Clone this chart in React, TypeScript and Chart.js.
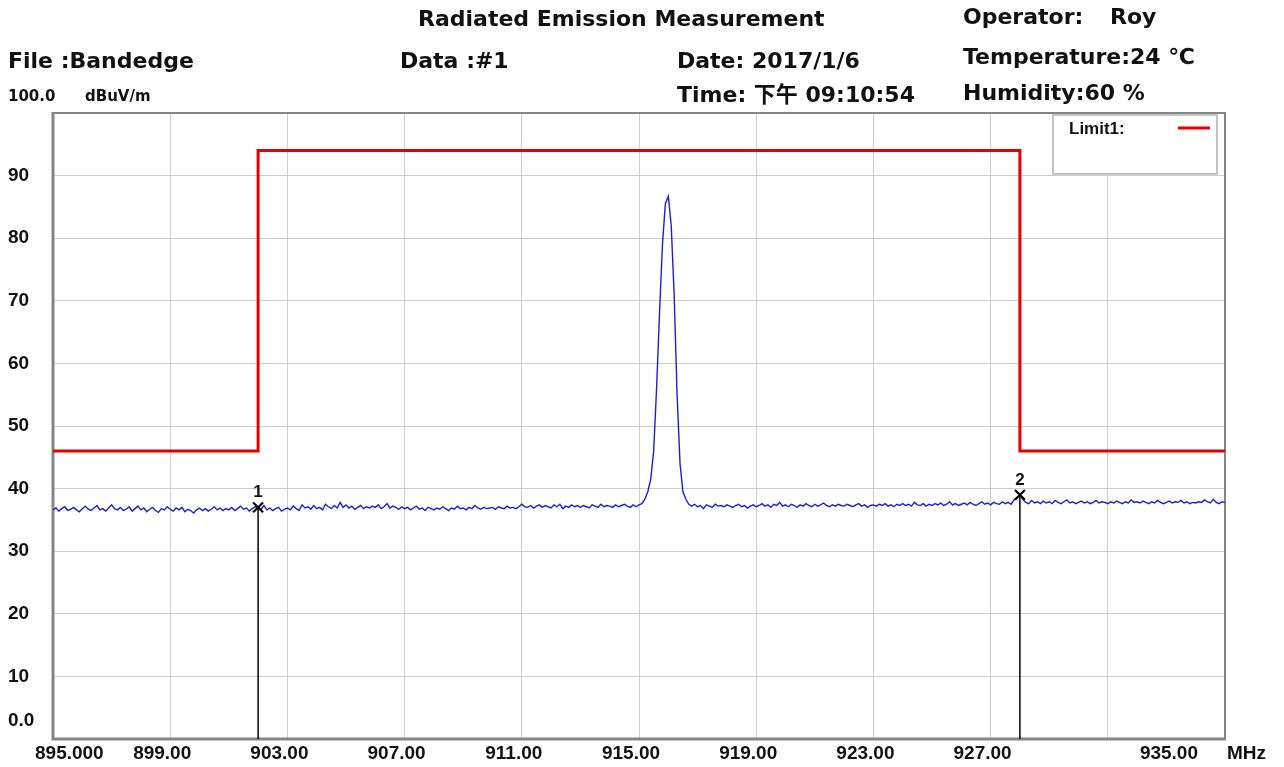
import React, { useEffect, useRef } from "react";
import { Chart, registerables } from "chart.js";

Chart.register(...registerables);

// ---------------- data ----------------
const START_MHZ = 895;
const STEP_MHZ = 0.1;

// measured level (dBuV/m) every 0.1 MHz from 895.0 to 935.0 MHz
const TRACE_LEVELS = [
  // 895
  36.6, 36.9, 36.4, 36.8, 37.1, 36.5, 36.7, 37.0, 36.6, 36.3,
  // 896
  36.8, 37.2, 36.7, 36.5, 36.9, 37.3, 36.6, 36.8, 36.4, 36.9,
  // 897
  37.4, 36.8, 36.6, 37.0, 36.5, 36.7, 37.1, 36.4, 36.8, 37.2,
  // 898
  36.6, 36.9, 36.3, 36.7, 37.0, 36.5, 36.2, 36.8, 36.6, 37.1,
  // 899
  36.7, 36.4, 36.9, 36.6, 37.0, 36.3, 36.7, 36.5, 36.1, 36.6,
  // 900
  36.9, 36.5, 36.8, 36.4, 36.7, 37.1, 36.6, 36.9, 36.5, 36.8,
  // 901
  36.6, 37.0, 36.5, 36.8, 37.2, 36.7, 36.9, 36.4, 36.8, 37.1,
  // 902
  37.0, 36.7, 37.3, 36.6, 36.9, 36.5, 36.8, 37.0, 36.4, 36.7,
  // 903
  36.9, 36.6, 37.2, 36.8, 36.5, 37.4, 36.9, 37.1, 36.7, 37.3,
  // 904
  36.8, 37.0, 36.6, 37.5, 37.1, 36.8, 37.3, 36.9, 37.8, 37.0,
  // 905
  37.4, 36.9, 37.2, 36.7, 37.0, 37.3, 36.8, 37.1, 36.9, 37.2,
  // 906
  37.0, 37.4, 36.8, 37.1, 37.6, 36.9, 37.2, 37.0, 36.7, 37.1,
  // 907
  36.8, 37.0, 36.6, 36.9, 37.2, 36.7, 36.9, 36.5, 37.0, 36.8,
  // 908
  36.6, 36.9, 36.7, 37.1, 36.8, 36.5, 36.9, 36.7, 37.2, 36.8,
  // 909
  36.9, 36.6, 37.0, 36.8, 37.3, 36.9, 36.7, 37.0, 36.8, 36.9,
  // 910
  37.0, 36.7, 37.1, 36.9, 36.8, 37.2, 36.9, 37.0, 36.8, 37.1,
  // 911
  37.5, 37.1, 37.0, 37.3, 36.9, 37.2, 37.4, 37.0, 37.3, 37.1,
  // 912
  36.9, 37.4, 37.1, 37.5, 36.8, 37.2, 37.0, 37.4, 37.1, 37.3,
  // 913
  37.0, 37.3, 37.1, 36.9, 37.4, 37.2, 37.0, 37.5, 37.1, 37.3,
  // 914
  37.2, 37.0, 37.4, 37.1, 37.3, 37.5, 37.2, 37.0, 37.4, 37.1,
  // 915
  37.4, 37.6, 38.3, 39.5, 41.5, 46.0, 56.0, 68.0, 79.0, 85.5,
  // 916
  86.7, 82.0, 71.0, 55.0, 44.0, 39.5, 38.3, 37.5, 37.2, 37.5,
  // 917
  37.1, 37.3, 36.8, 37.4, 37.2, 37.0, 37.5, 37.2, 37.3, 37.1,
  // 918
  37.4, 37.2, 37.0, 37.3, 37.5, 37.1, 37.3, 36.9, 37.2, 37.4,
  // 919
  37.1, 37.3, 37.6, 37.2, 37.4, 37.0, 37.5, 37.3, 37.8, 37.2,
  // 920
  37.4, 37.1, 37.5, 37.3, 37.0, 37.4, 37.2, 37.6, 37.3, 37.1,
  // 921
  37.5, 37.2, 37.4, 37.7, 37.3, 37.1, 37.4, 37.2, 37.5, 37.3,
  // 922
  37.2, 37.5, 37.3, 37.1, 37.4, 37.6, 37.2, 37.4, 37.0, 37.3,
  // 923
  37.4, 37.2, 37.5, 37.3, 37.6, 37.2, 37.4, 37.1, 37.5, 37.3,
  // 924
  37.6, 37.3, 37.5, 37.2, 37.8, 37.4, 37.3, 37.6, 37.2, 37.5,
  // 925
  37.3, 37.6, 37.4, 37.7, 37.3, 37.5, 37.9, 37.4, 37.6, 37.3,
  // 926
  37.5, 37.7, 37.4, 37.8, 37.5, 37.3, 37.6, 37.9, 37.5, 37.7,
  // 927
  37.4, 37.8, 37.6, 37.5, 37.9, 37.6, 37.8, 37.5, 38.2, 38.5,
  // 928
  39.0, 38.3, 37.8, 37.6, 38.1, 37.7, 37.9, 37.6, 38.0, 37.7,
  // 929
  37.9, 37.6, 38.1, 37.8, 37.6, 37.9, 38.2, 37.7, 37.9, 37.6,
  // 930
  37.8, 38.0, 37.7, 37.9, 37.6, 37.8, 38.1, 37.7, 37.9, 37.8,
  // 931
  37.6, 37.9, 37.7, 38.0, 37.8, 37.6, 37.9, 37.7, 38.2, 37.8,
  // 932
  37.9, 37.7, 38.0, 37.8, 37.6, 37.9, 37.7, 38.1, 37.8, 37.6,
  // 933
  37.8, 38.0, 37.7, 37.9, 37.8, 38.1, 37.7, 37.9, 37.6, 37.8,
  // 934
  37.7, 37.9, 37.8, 38.2, 37.9, 37.7, 38.3, 37.8, 37.6, 37.9,
  // 935
  37.8,
];

const LIMIT_FREQS = [895, 902, 902, 928, 928, 935];
const LIMIT_LEVELS = [46, 46, 94, 94, 46, 46];

const MARKER_NAMES = ["1", "2"];
const MARKER_FREQS = [902, 928];
const MARKER_LEVELS = [37.0, 39.0];

const X_TICK_VALUES = [895, 899, 903, 907, 911, 915, 919, 923, 927, 931, 935];
const X_TICK_LABELS = [
  "895.000", "899.00", "903.00", "907.00", "911.00", "915.00",
  "919.00", "923.00", "927.00", "", "935.00",
];
const X_UNIT = "MHz";

const Y_TICK_VALUES = [0, 10, 20, 30, 40, 50, 60, 70, 80, 90, 100];
const Y_TICK_LABELS = ["0.0", "10", "20", "30", "40", "50", "60", "70", "80", "90", "100.0"];
const Y_UNIT = "dBuV/m";

const TITLE = "Radiated Emission Measurement";
const FILE_TEXT = "File :Bandedge";
const DATA_TEXT = "Data :#1";
const DATE_TEXT = "Date: 2017/1/6";
const TIME_TEXT = "Time: 下午 09:10:54";
const OPERATOR_LABEL = "Operator:";
const OPERATOR_NAME = "Roy";
const TEMP_TEXT = "Temperature:24 ℃";
const HUMIDITY_TEXT = "Humidity:60 %";
const LEGEND_LABEL = "Limit1:";

// ---------------- styles ----------------
const HEAD_FONT = '"DejaVu Sans", "Noto Sans CJK SC", sans-serif';
const TICK_FONT = '"Liberation Sans", Arial, sans-serif';
const TEXT_COLOR = "#111111";
const TRACE_COLOR = "#1e1ed4";
const LIMIT_COLOR = "#e50000";
const GRID_COLOR = "#cdcdcd";
const FRAME_COLOR = "#858585";

const overlayPlugin = {
  id: "overlay",
  beforeDatasetsDraw(chart: any) {
    const { ctx, chartArea } = chart;
    const { left, right, top, bottom } = chartArea;
    ctx.save();
    ctx.strokeStyle = FRAME_COLOR;
    ctx.lineWidth = 2;
    ctx.strokeRect(left, top, right - left, bottom - top);
    ctx.lineWidth = 3;
    ctx.beginPath();
    ctx.moveTo(left, top - 1);
    ctx.lineTo(left, bottom);
    ctx.lineTo(right + 1, bottom);
    ctx.stroke();
    ctx.restore();
  },
  afterDraw(chart: any) {
    const { ctx, chartArea } = chart;
    const xs = chart.scales.x;
    const ys = chart.scales.y;
    const { right, top, bottom } = chartArea;
    ctx.save();
    ctx.fillStyle = TEXT_COLOR;
    ctx.textBaseline = "middle";

    // header texts
    ctx.font = `bold 22px ${HEAD_FONT}`;
    ctx.textAlign = "left";
    ctx.fillText(TITLE, 418, 20);
    ctx.fillText(OPERATOR_LABEL, 963, 18);
    ctx.fillText(OPERATOR_NAME, 1110, 18);
    ctx.fillText(FILE_TEXT, 8, 62);
    ctx.fillText(DATA_TEXT, 400, 62);
    ctx.fillText(DATE_TEXT, 677, 62);
    ctx.fillText(TEMP_TEXT, 963, 58);
    ctx.fillText(TIME_TEXT, 677, 96);
    ctx.fillText(HUMIDITY_TEXT, 963, 94);

    // y unit and top label
    ctx.font = `bold 15px ${HEAD_FONT}`;
    ctx.fillText(Y_TICK_LABELS[Y_TICK_LABELS.length - 1], 8, 97);
    ctx.fillText(Y_UNIT, 85, 97);

    // y tick labels
    ctx.font = `bold 19px ${TICK_FONT}`;
    Y_TICK_VALUES.forEach((v, i) => {
      if (i === Y_TICK_VALUES.length - 1) return;
      let y = ys.getPixelForValue(v);
      if (i === 0) y -= 18;
      ctx.fillText(Y_TICK_LABELS[i], 8, y);
    });

    // x tick labels
    const ly = bottom + 15;
    X_TICK_VALUES.forEach((v, i) => {
      const px = xs.getPixelForValue(v);
      const t = X_TICK_LABELS[i];
      if (!t) return;
      if (i === 0) {
        ctx.textAlign = "left";
        ctx.fillText(t, px - 18, ly);
      } else if (i === X_TICK_VALUES.length - 1) {
        ctx.textAlign = "right";
        ctx.fillText(t, px - 27, ly);
      } else {
        ctx.textAlign = "center";
        ctx.fillText(t, px - 8, ly);
      }
    });
    ctx.textAlign = "left";
    ctx.fillText(X_UNIT, right + 2, ly);

    // marker numbers
    ctx.font = `bold 17px ${TICK_FONT}`;
    ctx.textAlign = "center";
    MARKER_FREQS.forEach((f, i) => {
      const px = xs.getPixelForValue(f);
      const py = ys.getPixelForValue(MARKER_LEVELS[i]);
      ctx.fillText(MARKER_NAMES[i], px, py - 15);
    });

    // legend box
    const bx = right - 172;
    const by = top + 2;
    const bw = 164;
    const bh = 59;
    ctx.fillStyle = "#ffffff";
    ctx.fillRect(bx, by, bw, bh);
    ctx.strokeStyle = "#c4c4c4";
    ctx.lineWidth = 2;
    ctx.strokeRect(bx, by, bw, bh);
    ctx.fillStyle = TEXT_COLOR;
    ctx.font = `bold 17px ${TICK_FONT}`;
    ctx.textAlign = "left";
    ctx.fillText(LEGEND_LABEL, bx + 16, by + 14);
    ctx.strokeStyle = LIMIT_COLOR;
    ctx.lineWidth = 3;
    ctx.beginPath();
    ctx.moveTo(bx + 125, by + 13);
    ctx.lineTo(bx + 157, by + 13);
    ctx.stroke();

    ctx.restore();
  },
};

export default function App() {
  const canvasRef = useRef<HTMLCanvasElement | null>(null);

  useEffect(() => {
    document.body.style.margin = "0";
    document.body.style.background = "#ffffff";
    const canvas = canvasRef.current;
    if (!canvas) return;

    const tracePoints = TRACE_LEVELS.map((y, i) => ({
      x: +(START_MHZ + i * STEP_MHZ).toFixed(2),
      y,
    }));
    const limitPoints = LIMIT_FREQS.map((x, i) => ({ x, y: LIMIT_LEVELS[i] }));

    const markerSets = MARKER_FREQS.map((f, i) => ({
      label: "Marker " + MARKER_NAMES[i],
      data: [
        { x: f, y: 0 },
        { x: f, y: MARKER_LEVELS[i] },
      ],
      borderColor: "#000000",
      borderWidth: 1.5,
      pointRadius: [0, 7],
      pointStyle: "crossRot",
      pointBorderColor: "#000000",
      pointBorderWidth: 2.2,
      pointBackgroundColor: "#000000",
      tension: 0,
    }));

    const chart = new Chart(canvas, {
      type: "line",
      data: {
        datasets: [
          ...markerSets,
          {
            label: "Trace",
            data: tracePoints,
            borderColor: TRACE_COLOR,
            borderWidth: 1.4,
            pointRadius: 0,
            tension: 0,
          },
          {
            label: "Limit1",
            data: limitPoints,
            borderColor: LIMIT_COLOR,
            borderWidth: 3,
            pointRadius: 0,
            tension: 0,
          },
        ] as any,
      },
      options: {
        responsive: false,
        animation: false,
        events: [],
        layout: { padding: { left: 53, right: 59, top: 113, bottom: 28 } },
        plugins: {
          legend: { display: false },
          tooltip: { enabled: false },
          title: { display: false },
        },
        scales: {
          x: {
            type: "linear",
            min: 895,
            max: 935,
            afterBuildTicks: (axis: any) => {
              axis.ticks = X_TICK_VALUES.map((value) => ({ value }));
            },
            ticks: { display: false },
            grid: { color: GRID_COLOR, lineWidth: 1, drawTicks: false },
            border: { display: false },
          },
          y: {
            type: "linear",
            min: 0,
            max: 100,
            afterBuildTicks: (axis: any) => {
              axis.ticks = Y_TICK_VALUES.map((value) => ({ value }));
            },
            ticks: { display: false },
            grid: { color: GRID_COLOR, lineWidth: 1, drawTicks: false },
            border: { display: false },
          },
        },
      },
      plugins: [overlayPlugin],
    });

    return () => chart.destroy();
  }, []);

  return (
    <div style={{ width: 1284, height: 767, background: "#fff" }}>
      <canvas ref={canvasRef} width={1284} height={767} style={{ display: "block" }} />
    </div>
  );
}
